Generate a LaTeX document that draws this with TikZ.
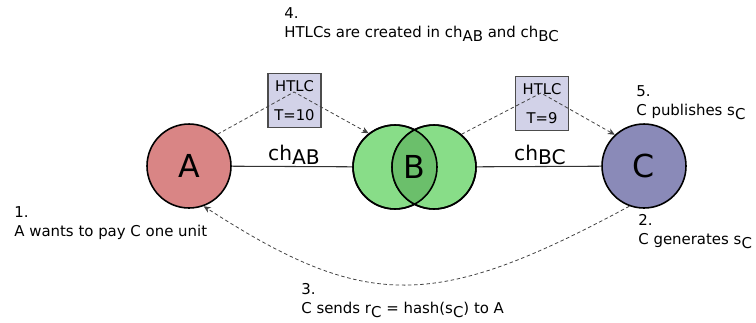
\documentclass[tikz,border=0pt]{standalone}
\usepackage{fontspec}
\setmainfont{DejaVu Sans}
\usetikzlibrary{arrows.meta}
\definecolor{colA}{HTML}{D98585}
\definecolor{colB}{HTML}{88DD88}
\definecolor{colBB}{HTML}{6BBF6B}
\definecolor{colC}{HTML}{8A8AB8}
\definecolor{htlcfill}{HTML}{D2D2E8}
\newcommand{\lsub}[1]{\raisebox{-0.45ex}{#1}}

\begin{document}
\begin{tikzpicture}[x=0.02cm, y=-0.02cm,
    party/.style={circle, draw, line width=0.9pt, minimum size=1.68cm, inner sep=0pt, font=\fontsize{18}{20}\selectfont},
    htlc/.style={rectangle, draw=black!70, line width=0.8pt, fill=htlcfill, minimum width=1.06cm, minimum height=1.08cm, align=center, inner sep=0pt, font=\fontsize{8.4}{16.5}\selectfont},
    note/.style={anchor=north west, align=left, inner sep=0pt, font=\fontsize{8.5}{10.8}\selectfont},
    chan/.style={anchor=base, inner sep=0pt, font=\fontsize{11.5}{13}\selectfont},
    flow/.style={draw=black!75, dash pattern=on 2pt off 1.5pt, line width=0.45pt, -{Stealth[length=4pt,width=3.5pt]}}
]
    \useasboundingbox (0,0) rectangle (756,322);

    % Parties
    \node[party, fill=colA] (A) at (189,166) {A};
    \node[party, fill=colB] (B1) at (395,167) {};
    \node[party, fill=colB] (B2) at (434,167) {};
    \begin{scope}
        \clip (B1.center) circle (0.84cm);
        \fill[colBB] (B2.center) circle (0.84cm);
    \end{scope}
    \draw[line width=0.9pt] (B1.center) circle (0.84cm);
    \draw[line width=0.9pt] (B2.center) circle (0.84cm);
    \node[font=\fontsize{18}{20}\selectfont] (B) at (414.5,167) {B};
    \node[party, fill=colC] (C) at (644,166) {C};

    % Channels
    \draw[black!80, line width=0.6pt] (A) -- (B1);
    \draw[black!80, line width=0.6pt] (B2) -- (C);
    \node[chan] (chAB) at (294,160) {ch\lsub{AB}};
    \node[chan] (chBC) at (540,160) {ch\lsub{BC}};

    % HTLCs
    \node[htlc] (htlc1) at (294.5,100.5) {HTLC\\T=10};
    \node[htlc] (htlc2) at (542,103.5) {HTLC\\T=9};
    \coordinate (apex1) at (294,92);
    \coordinate (apex2) at (541,93);
    \draw[flow] (A.48) -- (apex1) -- (B1.128);
    \draw[flow] (B2.50) -- (apex2) -- (C.133);

    % Secret hash back to A
    \draw[flow] (C.-110) .. controls (435,311) and (366,311) .. (A.-70);

    % Steps
    \node[note] (step1) at (14,206.5) {1.\\A wants to pay C one unit};
    \node[note] (step2) at (638,214.5) {2.\\C generates s\lsub{C}};
    \node[note] (step3) at (301,283.5) {3.\\C sends r\lsub{C} = hash(s\lsub{C}) to A};
    \node[note] (step4) at (284,7.5) {4.\\HTLCs are created in ch\lsub{AB} and ch\lsub{BC}};
    \node[note] (step5) at (636,85.5) {5.\\C publishes s\lsub{C}};
\end{tikzpicture}
\end{document}
